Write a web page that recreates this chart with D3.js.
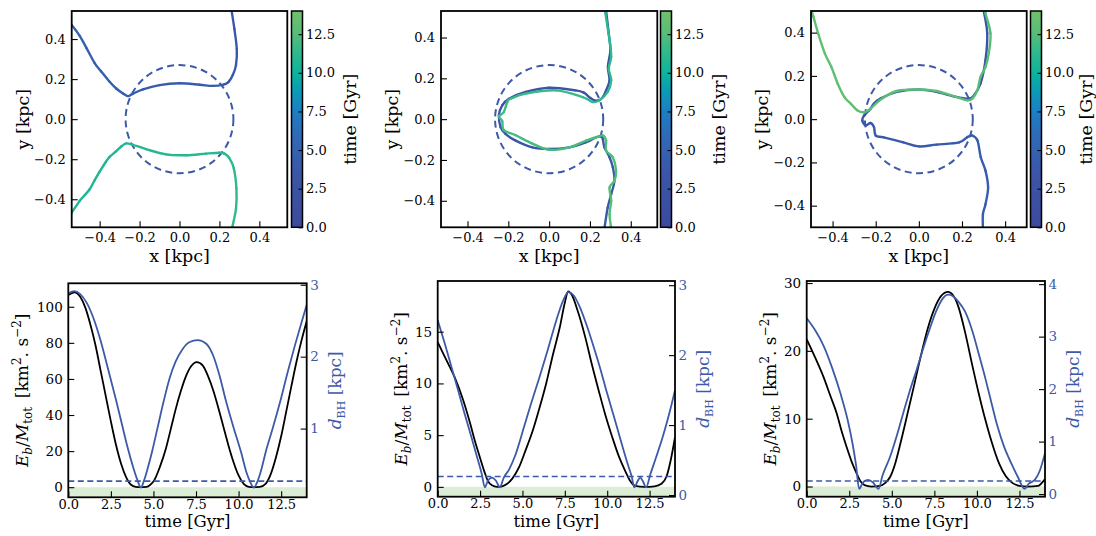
<!DOCTYPE html>
<html><head><meta charset="utf-8">
<script src="https://cdn.jsdelivr.net/npm/d3@7"></script>
<style>body{margin:0;background:#fff}svg{display:block}text{font-family:"DejaVu Serif",serif}</style>
</head><body><svg id="c" width="1096" height="536"></svg>
<script>
// ---------------- DATA ----------------
const radii = [0.27, 0.265, 0.25];           // dashed circle radius / d_BH threshold (kpc)
const xyTicks = [-0.4, -0.2, 0, 0.2, 0.4];
const cbTicks = [0, 2.5, 5, 7.5, 10, 12.5];
const timeTicks = [0, 2.5, 5, 7.5, 10, 12.5];
const ebTicks = [[0,20,40,60,80,100],[0,5,10,15],[0,10,20,30]];
const dTicks = [[1,2,3],[0,1,2,3],[0,1,2,3,4]];
const cmapStops = [0, 3.5, 6, 7.5, 9, 10, 11.5, 12.5, 14];
const cmapColors = ["#3c4a9c","#3b56a8","#2f6bb8","#1b7fc4","#0a9fb2","#0db39c","#35b98b","#55bd78","#70c16b"];

// trajectory passes [x,y] in kpc, with [start,end] time of each pass (Gyr)
const traj1A = [[0.26,0.57],[0.26,0.55],[0.275,0.45],[0.287,0.35],[0.283,0.27],[0.267,0.22],[0.245,0.185],[0.22,0.172],[0.167,0.166],[0.1,0.172],[0.0,0.179],[-0.1,0.17],[-0.183,0.149],[-0.235,0.126],[-0.258,0.115],[-0.283,0.128],[-0.317,0.153],[-0.35,0.187],[-0.392,0.238],[-0.425,0.28],[-0.467,0.357],[-0.5,0.416],[-0.54,0.47],[-0.56,0.49]];
const traj1B = [[-0.56,-0.49],[-0.54,-0.466],[-0.5,-0.408],[-0.475,-0.38],[-0.45,-0.35],[-0.425,-0.305],[-0.4,-0.262],[-0.37,-0.215],[-0.35,-0.188],[-0.317,-0.16],[-0.29,-0.135],[-0.267,-0.121],[-0.233,-0.128],[-0.167,-0.15],[-0.067,-0.176],[0.033,-0.18],[0.133,-0.172],[0.2,-0.168],[0.225,-0.172],[0.25,-0.195],[0.272,-0.245],[0.285,-0.346],[0.283,-0.447],[0.262,-0.55],[0.258,-0.57]];
const traj2A = [[0.279,0.56],[0.279,0.533],[0.292,0.42],[0.3,0.338],[0.288,0.256],[0.296,0.19],[0.279,0.141],[0.263,0.108],[0.245,0.093],[0.222,0.092],[0.2,0.105],[0.17,0.13],[0.13,0.141],[0.0,0.154],[-0.115,0.133],[-0.197,0.1],[-0.23,0.068],[-0.246,0.02],[-0.238,-0.039],[-0.214,-0.072],[-0.164,-0.105],[-0.082,-0.138],[0,-0.146],[0.099,-0.138],[0.181,-0.113],[0.23,-0.089],[0.255,-0.085],[0.263,-0.097],[0.271,-0.138],[0.296,-0.187],[0.312,-0.236],[0.32,-0.302],[0.304,-0.368],[0.287,-0.433],[0.271,-0.535],[0.268,-0.56]];
const traj2B = [[0.276,0.552],[0.276,0.519],[0.296,0.388],[0.304,0.306],[0.292,0.248],[0.304,0.19],[0.287,0.133],[0.246,0.092],[0.214,0.084],[0.164,0.108],[0.033,0.141],[-0.115,0.125],[-0.189,0.1],[-0.205,0.084],[-0.222,0.035],[-0.246,0.013],[-0.23,-0.01],[-0.222,-0.054],[-0.164,-0.079],[-0.082,-0.12],[0,-0.15],[0.099,-0.138],[0.181,-0.105],[0.23,-0.089],[0.263,-0.08],[0.279,-0.105],[0.279,-0.154],[0.312,-0.187],[0.328,-0.252],[0.32,-0.302],[0.296,-0.335],[0.304,-0.4],[0.296,-0.466],[0.304,-0.535],[0.306,-0.56]];
const traj3A = [[0.301,0.521],[0.301,0.501],[0.317,0.397],[0.309,0.273],[0.286,0.165],[0.256,0.11],[0.233,0.095],[0.172,0.103],[0.081,0.126],[0,0.137],[-0.102,0.126],[-0.178,0.095],[-0.208,0.072],[-0.224,0.048],[-0.231,0.04],[-0.254,0.017],[-0.262,-0.006],[-0.247,-0.029],[-0.224,-0.018],[-0.208,-0.037],[-0.2,-0.076],[-0.163,-0.084],[-0.072,-0.107],[0,-0.126],[0.081,-0.118],[0.187,-0.107],[0.225,-0.083],[0.248,-0.076],[0.272,-0.099],[0.287,-0.176],[0.309,-0.238],[0.321,-0.316],[0.309,-0.393],[0.297,-0.44],[0.297,-0.505],[0.297,-0.533]];
const traj3B = [[0.309,0.521],[0.309,0.49],[0.332,0.397],[0.324,0.304],[0.309,0.242],[0.286,0.195],[0.271,0.133],[0.248,0.095],[0.225,0.087],[0.172,0.103],[0.081,0.13],[0,0.137],[-0.102,0.13],[-0.178,0.09],[-0.224,0.048],[-0.254,0.032],[-0.284,0.04],[-0.315,0.071],[-0.345,0.102],[-0.376,0.164],[-0.406,0.242],[-0.436,0.304],[-0.467,0.397],[-0.489,0.474],[-0.505,0.52]];
const passTimes = [[[3.75,4.7],[10.45,11.4]], [[2.4,4.1],[11.1,12.7]], [[2.6,4.6],[12.4,13.3]]];

// time series: [t (Gyr), value]
const ebA = [[0,106.5],[0.35,108],[0.7,105.5],[1.0,99.5],[1.3,90],[1.6,78.5],[1.9,64.5],[2.2,50.5],[2.5,36.5],[2.8,23.5],[3.1,13],[3.4,5.5],[3.7,1.2],[3.95,0.2],[4.25,0],[4.6,0.2],[4.8,1.2],[5.0,3.1],[5.4,11.8],[5.72,21],[6.0,31.5],[6.3,43],[6.6,53],[6.9,61.3],[7.2,66.9],[7.55,69.3],[7.9,67.4],[8.2,61.7],[8.5,54],[8.8,44.3],[9.1,33.8],[9.4,23.3],[9.7,14],[10.0,6.5],[10.3,1.8],[10.6,0.2],[10.9,0],[11.25,0.2],[11.6,2],[11.9,7.5],[12.2,16.7],[12.5,28.2],[12.8,42],[13.1,56],[13.4,69.5],[13.7,81.5],[14,92]];
const dA = [[0,2.88],[0.35,2.91],[0.7,2.87],[1.1,2.74],[1.5,2.52],[1.9,2.22],[2.3,1.86],[2.8,1.4],[3.15,1.06],[3.48,0.74],[3.8,0.47],[4.05,0.29],[4.26,0.18],[4.45,0.28],[4.7,0.48],[4.94,0.7],[5.25,1.02],[5.6,1.38],[5.95,1.7],[6.3,1.93],[6.7,2.1],[7.1,2.2],[7.6,2.23],[8.1,2.18],[8.5,2.02],[8.9,1.72],[9.24,1.4],[9.7,1.02],[10.16,0.66],[10.45,0.4],[10.7,0.25],[10.9,0.18],[11.1,0.26],[11.3,0.4],[11.62,0.7],[12.0,1.0],[12.46,1.39],[12.9,1.8],[13.3,2.15],[13.7,2.48],[14,2.72]];
const ebB = [[0,14.0],[0.5,12.3],[1.0,10.6],[1.5,8.4],[1.92,6.1],[2.2,4.4],[2.5,2.8],[2.75,1.5],[2.95,0.6],[3.2,0.15],[3.5,0],[3.8,0.05],[4.1,0.3],[4.4,0.8],[4.8,1.9],[5.2,3.6],[5.6,5.4],[6.0,7.6],[6.4,10.0],[6.8,12.8],[7.2,15.4],[7.5,17.8],[7.7,18.9],[7.9,18.6],[8.3,16.8],[8.7,14.5],[9.1,11.8],[9.5,9.3],[9.9,6.9],[10.3,4.8],[10.7,2.9],[11.06,1.55],[11.35,0.6],[11.65,0.1],[12.2,0],[12.8,0.05],[13.2,0.3],[13.5,1.0],[13.75,2.6],[14,4.8]];
const dB = [[0,2.5],[0.4,2.18],[0.8,1.84],[1.2,1.5],[1.6,1.15],[2.0,0.82],[2.35,0.52],[2.6,0.3],[2.78,0.11],[2.95,0.2],[3.2,0.25],[3.45,0.2],[3.66,0.11],[3.9,0.25],[4.2,0.36],[4.55,0.55],[5.1,0.98],[5.5,1.3],[6.0,1.68],[6.5,2.08],[7.0,2.5],[7.4,2.78],[7.7,2.9],[8.0,2.86],[8.4,2.68],[8.8,2.42],[9.2,2.12],[9.6,1.8],[10.0,1.45],[10.4,1.12],[10.8,0.78],[11.2,0.45],[11.45,0.26],[11.6,0.11],[11.8,0.2],[11.95,0.25],[12.1,0.2],[12.3,0.11],[12.55,0.3],[12.9,0.55],[13.3,0.85],[13.7,1.2],[14,1.5]];
const ebC = [[0,21.7],[0.5,19.0],[0.98,16.2],[1.4,13.3],[1.76,10.8],[2.05,8.2],[2.35,5.8],[2.65,3.6],[2.94,1.9],[3.15,0.8],[3.4,0.2],[3.8,0],[4.3,0.1],[4.6,0.5],[4.9,1.4],[5.2,3.4],[5.5,6.3],[5.9,10.5],[6.3,14.8],[6.7,19.2],[7.1,23.2],[7.5,26.2],[7.9,28.1],[8.3,28.7],[8.6,28.2],[8.9,26.6],[9.3,22.8],[9.7,18.2],[10.1,13.8],[10.5,9.8],[10.9,6.3],[11.3,3.4],[11.7,1.5],[12.1,0.5],[12.5,0.1],[13,0],[13.6,0.1],[13.8,0.5],[14,1.1]];
const dC = [[0,3.35],[0.5,3.12],[1.0,2.82],[1.5,2.4],[2.0,1.9],[2.4,1.42],[2.7,0.95],[2.9,0.55],[3.08,0.1],[3.3,0.22],[3.6,0.27],[3.9,0.22],[4.22,0.1],[4.45,0.35],[4.9,0.71],[5.3,1.12],[5.67,1.54],[6.05,1.96],[6.45,2.36],[6.85,2.78],[7.24,3.16],[7.6,3.48],[8.0,3.73],[8.3,3.8],[8.6,3.77],[8.9,3.67],[9.3,3.48],[9.7,3.14],[10.1,2.68],[10.5,2.2],[10.86,1.73],[11.2,1.3],[11.6,0.9],[12.0,0.6],[12.4,0.33],[12.8,0.1],[13.05,0.2],[13.4,0.27],[13.7,0.45],[14,0.78]];

// ---------------- LAYOUT ----------------
const svg = d3.select("#c");
const BLUE = "#3d5aa8";
const cmap = d3.scaleLinear().domain(cmapStops).range(cmapColors).interpolate(d3.interpolateRgb);
const defs = svg.append("defs");
const grad = defs.append("linearGradient").attr("id","cbg").attr("x1",0).attr("y1",1).attr("x2",0).attr("y2",0);
d3.range(0, 14.01, 0.25).forEach(v => grad.append("stop").attr("offset", v/14).attr("stop-color", cmap(v)));

const topCfg = [
  {x0:71.7, x1:287.3, y0:11, y1:227.3, lim:0.54, cb:291.5, cbl:53},
  {x0:441, x1:657.3, y0:11, y1:227.3, lim:0.53, cb:660.5, cbl:53},
  {x0:811, x1:1026.7, y0:11, y1:227.3, lim:0.5, cb:1030.5, cbl:50}
];
const trajs = [[traj1A, traj1B],[traj2A, traj2B],[traj3A, traj3B]];

function styleAxis(g){ g.select(".domain").remove(); g.selectAll(".tick line").attr("stroke","#000").attr("stroke-width",1.1); g.selectAll("text").attr("font-family","DejaVu Serif").attr("fill","#000"); }

topCfg.forEach((c,i) => {
  const x = d3.scaleLinear().domain([-c.lim, c.lim]).range([c.x0, c.x1]);
  const y = d3.scaleLinear().domain([-c.lim, c.lim]).range([c.y1, c.y0]);
  const g = svg.append("g");
  const cid = "clipT"+i;
  defs.append("clipPath").attr("id",cid).append("rect").attr("x",c.x0).attr("y",c.y0).attr("width",c.x1-c.x0).attr("height",c.y1-c.y0);
  const pg = g.append("g").attr("clip-path",`url(#${cid})`);
  pg.append("ellipse").attr("cx",x(0)).attr("cy",y(0)).attr("rx",x(radii[i])-x(0)).attr("ry",y(0)-y(radii[i]))
    .attr("fill","none").attr("stroke",BLUE).attr("stroke-width",2).attr("stroke-dasharray","7,4.5");
  trajs[i].forEach((pts, k) => {
    const [t0, t1] = passTimes[i][k];
    const P = pts.map(p => [x(p[0]), y(p[1])]);
    const n = P.length;
    for (let j = 0; j < n-1; j++) {
      const a = P[Math.max(j-1,0)], b = P[j], cc = P[j+1], d = P[Math.min(j+2,n-1)];
      const c1 = [b[0]+(cc[0]-a[0])/6, b[1]+(cc[1]-a[1])/6];
      const c2 = [cc[0]-(d[0]-b[0])/6, cc[1]-(d[1]-b[1])/6];
      const tm = t0 + (t1-t0)*(j+0.5)/(n-1);
      pg.append("path").attr("d",`M${b}C${c1} ${c2} ${cc}`).attr("fill","none")
        .attr("stroke", cmap(tm)).attr("stroke-width",2.4).attr("stroke-linecap","round");
    }
  });
  g.append("g").attr("transform",`translate(0,${c.y1})`).call(d3.axisBottom(x).tickValues(xyTicks).tickFormat(d3.format(".1f")).tickSize(-6).tickPadding(5.5))
    .call(styleAxis).selectAll("text").attr("font-size",13);
  g.append("g").attr("transform",`translate(${c.x0},0)`).call(d3.axisLeft(y).tickValues(xyTicks).tickFormat(d3.format(".1f")).tickSize(-6).tickPadding(6))
    .call(styleAxis).selectAll("text").attr("font-size",13);
  g.append("rect").attr("x",c.x0).attr("y",c.y0).attr("width",c.x1-c.x0).attr("height",c.y1-c.y0).attr("fill","none").attr("stroke","#000").attr("stroke-width",1.8);
  g.append("text").attr("x",(c.x0+c.x1)/2).attr("y",261.5).attr("text-anchor","middle").attr("font-size",17.5).text("x [kpc]");
  g.append("text").attr("transform",`translate(${c.x0-43},${(c.y0+c.y1)/2}) rotate(-90)`).attr("text-anchor","middle").attr("font-size",17.5).text("y [kpc]");
  const cbW = 11;
  const cy = d3.scaleLinear().domain([0,14]).range([c.y1, c.y0]);
  g.append("rect").attr("x",c.cb).attr("y",c.y0).attr("width",cbW).attr("height",c.y1-c.y0).attr("fill","url(#cbg)");
  g.append("g").attr("transform",`translate(${c.cb+cbW},0)`).call(d3.axisRight(cy).tickValues(cbTicks).tickFormat(d3.format(".1f")).tickSize(-4).tickPadding(3.5))
    .call(styleAxis).selectAll("text").attr("font-size",13);
  g.append("rect").attr("x",c.cb).attr("y",c.y0).attr("width",cbW).attr("height",c.y1-c.y0).attr("fill","none").attr("stroke","#000").attr("stroke-width",1.5);
  g.append("text").attr("transform",`translate(${c.cb+cbW+c.cbl},${(c.y0+c.y1)/2}) rotate(-90)`).attr("text-anchor","middle").attr("font-size",17.5).text("time [Gyr]");
});

const botCfg = [
  {x0:68.3, x1:306.7, y0:283.3, y1:497.3, eb:[-5.6,113], d:[0.045,3.02], lab:45},
  {x0:437.7, x1:675, y0:281, y1:496.7, eb:[-0.95,19.9], d:[-0.024,3.06], lab:36},
  {x0:806.7, x1:1045, y0:281, y1:496.7, eb:[-1.5,30.3], d:[-0.05,4.06], lab:36}
];
const ebData = [ebA, ebB, ebC];
const dData = [dA, dB, dC];

botCfg.forEach((c,i) => {
  const x = d3.scaleLinear().domain([0,14]).range([c.x0,c.x1]);
  const yl = d3.scaleLinear().domain(c.eb).range([c.y1,c.y0]);
  const yr = d3.scaleLinear().domain(c.d).range([c.y1,c.y0]);
  const g = svg.append("g");
  const cid = "clipB"+i;
  defs.append("clipPath").attr("id",cid).append("rect").attr("x",c.x0).attr("y",c.y0).attr("width",c.x1-c.x0).attr("height",c.y1-c.y0);
  const pg = g.append("g").attr("clip-path",`url(#${cid})`);
  pg.append("rect").attr("x",c.x0).attr("y",yl(0)).attr("width",c.x1-c.x0).attr("height",c.y1-yl(0)).attr("fill","#dcedd5");
  pg.append("path").datum(ebData[i]).attr("fill","none").attr("stroke","#000").attr("stroke-width",1.8)
    .attr("d", d3.line().x(d=>x(d[0])).y(d=>yl(d[1])).curve(d3.curveMonotoneX));
  pg.append("path").datum(dData[i]).attr("fill","none").attr("stroke",BLUE).attr("stroke-width",1.8)
    .attr("d", d3.line().x(d=>x(d[0])).y(d=>yr(d[1])).curve(d3.curveMonotoneX));
  pg.append("line").attr("x1",c.x0).attr("x2",c.x1).attr("y1",yr(radii[i])).attr("y2",yr(radii[i]))
    .attr("stroke",BLUE).attr("stroke-width",1.6).attr("stroke-dasharray","6,3.5");
  g.append("g").attr("transform",`translate(0,${c.y1})`).call(d3.axisBottom(x).tickValues(timeTicks).tickFormat(d3.format(".1f")).tickSize(-6).tickPadding(2.5))
    .call(styleAxis).selectAll("text").attr("font-size",13);
  g.append("g").attr("transform",`translate(${c.x0},0)`).call(d3.axisLeft(yl).tickValues(ebTicks[i]).tickFormat(d3.format("d")).tickSize(-6).tickPadding(5.5))
    .call(styleAxis).selectAll("text").attr("font-size",13.5);
  const ra = g.append("g").attr("transform",`translate(${c.x1},0)`).call(d3.axisRight(yr).tickValues(dTicks[i]).tickFormat(d3.format("d")).tickSize(-6).tickPadding(3.5))
    .call(styleAxis);
  ra.selectAll("text").attr("font-size",13.5).attr("fill",BLUE);
  g.append("rect").attr("x",c.x0).attr("y",c.y0).attr("width",c.x1-c.x0).attr("height",c.y1-c.y0).attr("fill","none").attr("stroke","#000").attr("stroke-width",1.8);
  g.append("text").attr("x",(c.x0+c.x1)/2).attr("y",526.5).attr("text-anchor","middle").attr("font-size",16.5).text("time [Gyr]");
  const L = g.append("text").attr("transform",`translate(${c.x0-c.lab+5},${(c.y0+c.y1)/2}) rotate(-90)`)
    .attr("text-anchor","middle").attr("font-family","Liberation Serif").attr("font-size",17);
  L.append("tspan").attr("font-style","italic").text("E");
  L.append("tspan").attr("font-style","italic").attr("font-size",12).attr("dy",4).text("b");
  L.append("tspan").attr("dy",-4).text("/");
  L.append("tspan").attr("font-style","italic").text("M");
  L.append("tspan").attr("font-size",12).attr("dy",4).text("tot");
  L.append("tspan").attr("dy",-4).text("\u2009 [km");
  L.append("tspan").attr("font-size",12).attr("dy",-7).text("2");
  L.append("tspan").attr("dy",7).text(". s");
  L.append("tspan").attr("font-size",12).attr("dy",-7).text("\u22122");
  L.append("tspan").attr("dy",7).text("]");
  const R = g.append("text").attr("transform",`translate(${c.x1+34},${(c.y0+c.y1)/2}) rotate(-90)`)
    .attr("text-anchor","middle").attr("font-family","DejaVu Serif").attr("font-size",17).attr("fill",BLUE);
  R.append("tspan").attr("font-style","italic").text("d");
  R.append("tspan").attr("font-size",11).attr("dy",4).text("BH");
  R.append("tspan").attr("dy",-4).text(" [kpc]");
});
</script></body></html>
